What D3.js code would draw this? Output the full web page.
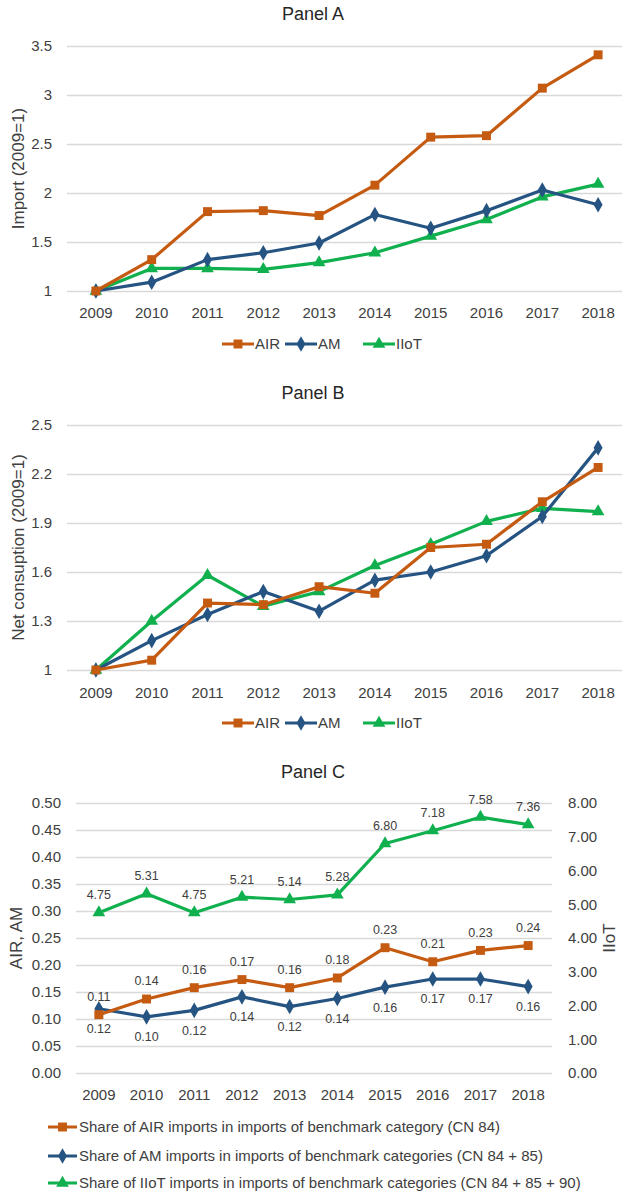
<!DOCTYPE html>
<html><head><meta charset="utf-8">
<script src="https://cdn.jsdelivr.net/npm/d3@7"></script>
<style>
html,body{margin:0;padding:0;background:#fff;}
svg{display:block;font-family:"Liberation Sans",Arial,sans-serif;}
</style></head>
<body><svg id="c" width="622" height="1195"></svg>
<script>
const years = ["2009","2010","2011","2012","2013","2014","2015","2016","2017","2018"];
// Panel A: Import (2009=1)
const aAIR  = [1.00,1.32,1.81,1.82,1.77,2.08,2.57,2.585,3.07,3.41];
const aAM   = [1.00,1.09,1.32,1.39,1.49,1.78,1.64,1.82,2.03,1.88];
const aIIoT = [1.00,1.23,1.23,1.22,1.29,1.39,1.56,1.73,1.96,2.09];
const aTicks = [1,1.5,2,2.5,3,3.5];
// Panel B: Net consumption (2009=1)
const bAIR  = [1.00,1.06,1.41,1.40,1.51,1.47,1.75,1.77,2.03,2.24];
const bAM   = [1.00,1.18,1.34,1.48,1.36,1.55,1.60,1.70,1.94,2.36];
const bIIoT = [1.00,1.30,1.58,1.39,1.48,1.64,1.77,1.91,1.99,1.97];
const bTicks = [1,1.3,1.6,1.9,2.2,2.5];
// Panel C: shares
const cAIR  = [0.108,0.137,0.158,0.173,0.158,0.176,0.232,0.206,0.227,0.236];
const cAM   = [0.119,0.104,0.116,0.141,0.123,0.138,0.159,0.174,0.174,0.160];
const cIIoT = [4.75,5.31,4.75,5.21,5.14,5.28,6.80,7.18,7.58,7.36];
const cTicksL = [0,0.05,0.10,0.15,0.20,0.25,0.30,0.35,0.40,0.45,0.50];
const cTicksR = [0,1,2,3,4,5,6,7,8];
const shortNames = ["AIR","AM","IIoT"];
const longNames = [
  "Share of AIR imports in imports of benchmark category (CN 84)",
  "Share of AM imports in imports of benchmark categories (CN 84 + 85)",
  "Share of IIoT imports in imports of benchmark categories (CN 84 + 85 + 90)"
];

const COL = ["#C55A11","#265482","#10B04E"];
const SYM = [d3.symbolSquare, d3.symbolDiamond, d3.symbolTriangle];
const SYMSIZE = [80, 70, 70];
const TXT = "#404040";
const GRID = "#d9d9d9";

const svg = d3.select("#c");

function gridAxis(g, y, ticks, x0, x1, fmt, pad) {
  const ax = d3.axisLeft(y).tickValues(ticks).tickSize(-(x1 - x0)).tickPadding(pad).tickFormat(fmt);
  const gg = g.append("g").attr("transform", `translate(${x0},0)`).call(ax);
  gg.select(".domain").remove();
  gg.selectAll(".tick line").attr("stroke", GRID).attr("stroke-width", 1.5);
  gg.selectAll(".tick text").attr("fill", TXT).attr("font-size", 15);
  gg.attr("font-family", null).attr("font-size", null);
}
function xAxis(g, x, y0, pad) {
  const gg = g.append("g").attr("transform", `translate(0,${y0})`)
    .call(d3.axisBottom(x).tickSize(0).tickPadding(pad));
  gg.select(".domain").remove();
  gg.selectAll(".tick text").attr("fill", TXT).attr("font-size", 15);
  gg.attr("font-family", null).attr("font-size", null);
}
function series(g, x, y, vals, i) {
  const cx = (d, k) => x(years[k]) + x.bandwidth() / 2;
  g.append("path").datum(vals)
    .attr("fill", "none").attr("stroke", COL[i]).attr("stroke-width", 3.2).attr("stroke-linejoin", "round")
    .attr("d", d3.line().x(cx).y(d => y(d)));
  g.selectAll(null).data(vals).enter().append("path")
    .attr("transform", (d, k) => `translate(${cx(d, k)},${y(d)})`)
    .attr("d", d3.symbol().type(SYM[i]).size(SYMSIZE[i]))
    .attr("fill", COL[i]);
}
function legendMark(g, x0, x1, yy, i) {
  g.append("line").attr("x1", x0).attr("x2", x1).attr("y1", yy).attr("y2", yy)
    .attr("stroke", COL[i]).attr("stroke-width", 3);
  g.append("path").attr("transform", `translate(${(x0 + x1) / 2},${yy})`)
    .attr("d", d3.symbol().type(SYM[i]).size(SYMSIZE[i])).attr("fill", COL[i]);
}
function title(txt, yy) {
  svg.append("text").attr("x", 313).attr("y", yy).attr("dy", "0.35em").attr("text-anchor", "middle")
    .attr("font-size", 18).attr("fill", "#262626").text(txt);
}
function yLabel(txt, xx, yy) {
  svg.append("text").attr("transform", `translate(${xx},${yy}) rotate(-90)`).attr("dy", "0.35em")
    .attr("text-anchor", "middle").attr("font-size", 17).attr("fill", TXT).text(txt);
}
function shortLegend(yy) {
  const g = svg.append("g");
  const starts = [222, 285, 363];
  shortNames.forEach((n, i) => {
    legendMark(g, starts[i], starts[i] + 32, yy, i);
    g.append("text").attr("x", starts[i] + 33).attr("y", yy).attr("dy", "0.35em")
      .attr("font-size", 15).attr("fill", TXT).text(n);
  });
}

function lineIndexPanel(ttl, ttlY, yl, data, ticks, yTop, yBot, legY, xPad) {
  title(ttl, ttlY);
  const x = d3.scaleBand().domain(years).range([68, 626]);
  const y = d3.scaleLinear().domain([ticks[0], ticks[ticks.length - 1]]).range([yBot, yTop]);
  const g = svg.append("g");
  gridAxis(g, y, ticks, 67, 626, d => String(d), 15);
  xAxis(g, x, yBot, xPad);
  [2, 1, 0].forEach(i => series(g, x, y, data[i], i));
  yLabel(yl, 18, (yTop + yBot) / 2);
  shortLegend(legY);
}

lineIndexPanel("Panel A", 14, "Import (2009=1)", [aAIR, aAM, aIIoT], aTicks, 46, 291, 344, 16);
lineIndexPanel("Panel B", 393, "Net consuption (2009=1)", [bAIR, bAM, bIIoT], bTicks, 425, 670, 723, 17);

// Panel C
title("Panel C", 772);
{
  const x = d3.scaleBand().domain(years).range([75, 552]);
  const yL = d3.scaleLinear().domain([0, 0.5]).range([1073, 803]);
  const yR = d3.scaleLinear().domain([0, 8]).range([1073, 803]);
  const g = svg.append("g");
  gridAxis(g, yL, cTicksL, 76, 552, d3.format(".2f"), 15);
  const ra = g.append("g").attr("transform", "translate(552,0)")
    .call(d3.axisRight(yR).tickValues(cTicksR).tickSize(0).tickPadding(16).tickFormat(d3.format(".2f")));
  ra.select(".domain").remove();
  ra.selectAll(".tick text").attr("fill", TXT).attr("font-size", 15);
  ra.attr("font-family", null).attr("font-size", null);
  xAxis(g, x, 1073, 16);
  series(g, x, yL, cAM, 1);
  series(g, x, yL, cAIR, 0);
  series(g, x, yR, cIIoT, 2);
  const cx = k => x(years[k]) + x.bandwidth() / 2;
  const lab = (vals, y, off) => g.selectAll(null).data(vals).enter().append("text")
    .attr("x", (d, k) => cx(k)).attr("y", d => y(d) + off).attr("dy", "0.35em")
    .attr("text-anchor", "middle").attr("font-size", 12.5).attr("fill", TXT)
    .text(d => d3.format(".2f")(d));
  lab(cIIoT, yR, -18);
  lab(cAIR, yL, -18);
  lab(cAM, yL, 20);
  yLabel("AIR, AM", 16, 938);
  svg.append("text").attr("transform", "translate(609,938) rotate(-90)").attr("dy", "0.35em")
    .attr("text-anchor", "middle").attr("font-size", 17).attr("fill", TXT).text("IIoT");
  const lg = svg.append("g");
  const rows = [1127, 1156, 1183];
  longNames.forEach((n, i) => {
    legendMark(lg, 48, 77, rows[i], i);
    lg.append("text").attr("x", 79).attr("y", rows[i]).attr("dy", "0.35em")
      .attr("font-size", 15).attr("fill", TXT).text(n);
  });
}
</script></body></html>
